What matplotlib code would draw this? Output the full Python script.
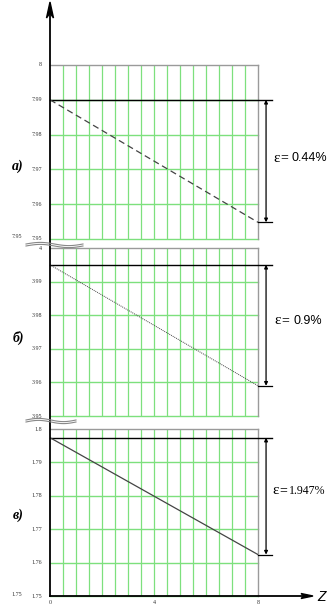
import numpy as np
import matplotlib
matplotlib.use("Agg")
import matplotlib.pyplot as plt

W, H = 329, 607

# three curves: start value, end value, relative drop
panel_names = ["а)", "б)", "в)"]
y_low = [7.95, 3.95, 1.75]
y_high = [8.0, 4.0, 1.80]
y_ticks = [
    ["7.95", "7.96", "7.97", "7.98", "7.99", "8"],
    ["3.95", "3.96", "3.97", "3.98", "3.99", "4"],
    ["1.75", "1.76", "1.77", "1.78", "1.79", "1.8"],
]
start_vals = [7.990, 3.995, 1.7974]
end_vals = [7.9548, 3.9590, 1.7624]
eps_text = ["0.44%", "0.9%", "1.947%"]
line_styles = [(0, (5, 3)), (0, (1, 1)), "-"]
line_widths = [0.9, 0.7, 0.9]
z_ticks = [0, 4, 8]
z_labels = ["0", "4", "8"]

# panel boxes in pixels: (top, bottom)
boxes = [(65, 239), (248, 416), (429, 596)]
label_y = [166, 338, 515]
X0, X1 = 50, 258
GREEN = "#7de07d"
GREY = "#9a9a9a"


def fx(x):
    return x / W


def fy(y):
    return 1 - y / H


fig = plt.figure(figsize=(W / 100, H / 100), dpi=100)

for i, (top, bot) in enumerate(boxes):
    ax = fig.add_axes([fx(X0), fy(bot), (X1 - X0) / W, (bot - top) / H])
    ax.set_xlim(0, 8)
    ax.set_ylim(y_low[i], y_high[i])
    for s in ["left", "bottom"]:
        ax.spines[s].set_visible(False)
    for s in ["top", "right"]:
        ax.spines[s].set_color(GREY)
        ax.spines[s].set_linewidth(1.0)
    ax.set_xticks([])
    ax.set_yticks([])

    # green grid
    for gx in np.arange(0.5, 8, 0.5):
        ax.axvline(gx, color=GREEN, lw=0.9, zorder=1)
    levels = np.linspace(y_low[i], y_high[i], 6)
    for gy in levels[:-1]:
        ax.axhline(gy, color=GREEN, lw=1.0, zorder=1, clip_on=False)

    # tick labels to the left of the axis
    for gy, lab in zip(levels, y_ticks[i]):
        ax.text(-0.3, gy, lab, ha="right", va="center", fontsize=4.3,
                color="#333333", family="Liberation Serif")

    # reference level and curve
    ax.plot([0, 8.55], [start_vals[i]] * 2, color="black", lw=1.0,
            clip_on=False, zorder=3)
    ax.plot([0, 8], [start_vals[i], end_vals[i]], color="#444444",
            lw=line_widths[i], ls=line_styles[i], zorder=3)
    ax.plot([8, 8.55], [end_vals[i]] * 2, color="black", lw=0.9,
            clip_on=False, zorder=3)
    ax.annotate("", xy=(8.31, end_vals[i]), xytext=(8.31, start_vals[i]),
                arrowprops=dict(arrowstyle="<|-|>", color="black", lw=0.9,
                                mutation_scale=5, shrinkA=0, shrinkB=0),
                annotation_clip=False)

    frac = 1 - (label_y[i] - top) / (bot - top)
    ax.text((18 - X0) / (X1 - X0) * 8, y_low[i] + (y_high[i] - y_low[i]) * frac,
            panel_names[i], ha="center", va="center", fontsize=10,
            fontweight="bold", fontstyle="italic", family="Liberation Serif")

    if i == 2:
        for zt, zl in zip(z_ticks, z_labels):
            ax.text(zt, y_low[i] - 0.0013, zl, ha="center", va="top",
                    fontsize=4.3, color="#333333", family="Liberation Serif")

# epsilon labels
eps_pos = [(273, 158), (274, 321), (272, 491)]
eps_fam = ["Liberation Sans", "Liberation Sans", "Liberation Serif"]
eps_gap = [19, 19, 17]
for (ex, ey), t, fam, gap in zip(eps_pos, eps_text, eps_fam, eps_gap):
    fig.text(fx(ex), fy(ey), "ε", fontsize=11, family="Liberation Serif",
             va="center", ha="left")
    fig.text(fx(ex + 7.5), fy(ey), "=", fontsize=10, family="Liberation Serif",
             va="center", ha="left")
    fig.text(fx(ex + gap), fy(ey), t, fontsize=9 if gap == 19 else 8.6,
             family=fam, va="center", ha="left")

# duplicated level labels at the breaks
for tx, ty, tt in [(17, 237, "7.95"), (17, 594, "1.75")]:
    fig.text(fx(tx), fy(ty), tt, fontsize=4.3, family="Liberation Serif",
             ha="center", va="center", color="#333333")

# vertical axis with arrow
fig.add_artist(plt.Line2D([fx(X0), fx(X0)], [fy(596), fy(12)], color="black",
                          lw=1.3))
fig.add_artist(plt.Polygon([[fx(X0), fy(2)], [fx(X0 - 3.5), fy(18)],
                            [fx(X0), fy(13)], [fx(X0 + 3.5), fy(18)]],
                           closed=True, color="black"))
# horizontal axis with arrow
fig.add_artist(plt.Line2D([fx(X0), fx(304)], [fy(596), fy(596)], color="black",
                          lw=1.3))
fig.add_artist(plt.Polygon([[fx(313), fy(596)], [fx(301), fy(593.5)],
                            [fx(304), fy(596)], [fx(301), fy(598.5)]],
                           closed=True, color="black"))
fig.text(fx(317), fy(597), "Z", fontsize=10, fontstyle="italic",
         family="Liberation Sans", ha="left", va="center")

# axis break marks
for by, x_end in [(245, 83), (421, 76)]:
    xs = np.linspace(26, x_end, 60)
    wave = 1.6 * np.sin((xs - 26) / (x_end - 26) * 2 * np.pi + np.pi)
    for off in (-1.0, 1.0):
        fig.add_artist(plt.Line2D(fx(xs), fy(by + wave + off), color="#888888",
                                  lw=0.8))

fig.savefig("out.png", dpi=100)
